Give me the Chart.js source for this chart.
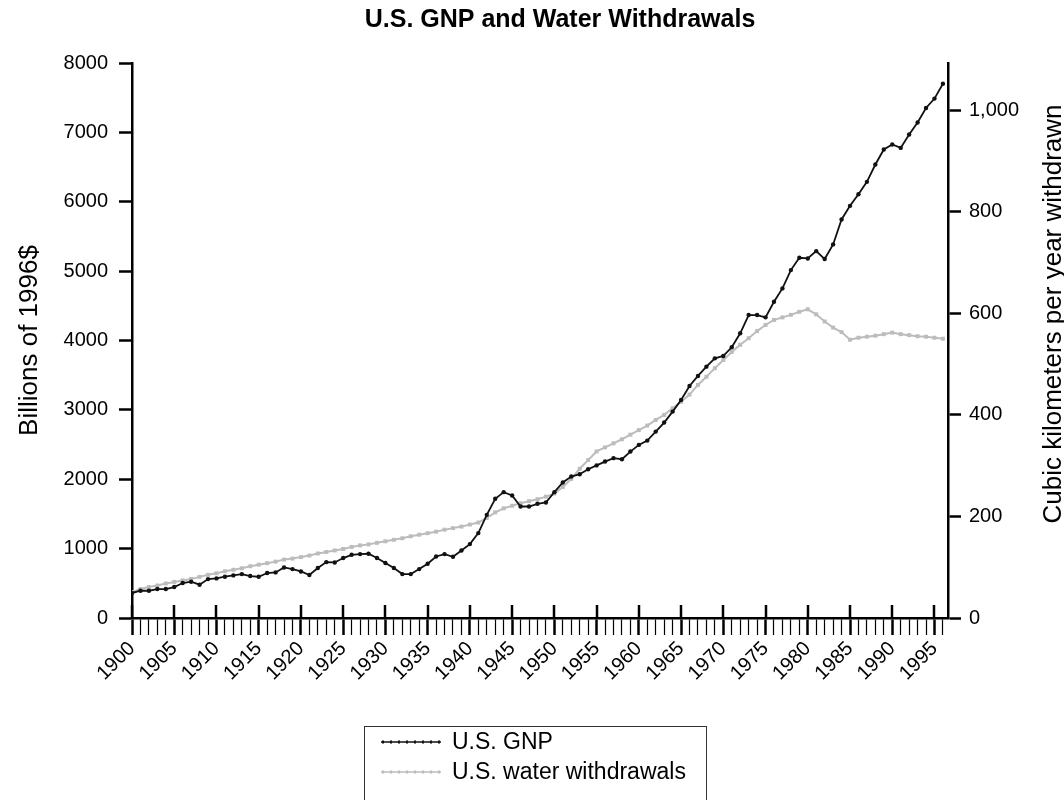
<!DOCTYPE html>
<html>
<head>
<meta charset="utf-8">
<title>U.S. GNP and Water Withdrawals</title>
<script src="https://cdn.jsdelivr.net/npm/chart.js@4.4.1/dist/chart.umd.min.js"></script>
<style>
  html, body { margin: 0; padding: 0; background: #fff; }
  #wrap { width: 1064px; height: 800px; }
</style>
</head>
<body>
<div id="wrap"><canvas id="chart" width="1064" height="800"></canvas></div>
<script>
const years = [
    1900, 1901, 1902, 1903, 1904, 1905, 1906, 1907, 1908, 1909,
    1910, 1911, 1912, 1913, 1914, 1915, 1916, 1917, 1918, 1919,
    1920, 1921, 1922, 1923, 1924, 1925, 1926, 1927, 1928, 1929,
    1930, 1931, 1932, 1933, 1934, 1935, 1936, 1937, 1938, 1939,
    1940, 1941, 1942, 1943, 1944, 1945, 1946, 1947, 1948, 1949,
    1950, 1951, 1952, 1953, 1954, 1955, 1956, 1957, 1958, 1959,
    1960, 1961, 1962, 1963, 1964, 1965, 1966, 1967, 1968, 1969,
    1970, 1971, 1972, 1973, 1974, 1975, 1976, 1977, 1978, 1979,
    1980, 1981, 1982, 1983, 1984, 1985, 1986, 1987, 1988, 1989,
    1990, 1991, 1992, 1993, 1994, 1995, 1996
];

// billions of 1996$
const gnp = [
    360, 393, 393, 417, 417, 446, 504, 523, 480, 561,
    571, 595, 614, 633, 605, 595, 648, 657, 729, 705,
    671, 619, 720, 806, 801, 864, 911, 921, 926, 864,
    792, 720, 633, 633, 705, 782, 887, 921, 883, 974,
    1065, 1224, 1487, 1718, 1814, 1766, 1607, 1607, 1646, 1665,
    1814, 1953, 2039, 2073, 2145, 2200, 2255, 2304, 2289, 2399,
    2495, 2557, 2687, 2817, 2975, 3143, 3345, 3489, 3623, 3743,
    3777, 3902, 4104, 4367, 4367, 4334, 4559, 4751, 5015, 5193,
    5183, 5289, 5174, 5385, 5745, 5941, 6109, 6287, 6537, 6753,
    6825, 6776, 6969, 7142, 7352, 7487, 7700
];

// cubic kilometers per year
const water = [
    51, 57, 61, 64, 68, 71, 74, 77, 81, 85,
    88, 92, 95, 98, 102, 105, 108, 111, 115, 117,
    120, 123, 127, 130, 133, 136, 140, 143, 145, 148,
    151, 154, 157, 161, 164, 167, 170, 174, 177, 180,
    184, 188, 197, 208, 216, 221, 226, 230, 234, 239,
    245, 258, 274, 294, 311, 328, 336, 344, 352, 361,
    370, 379, 390, 400, 413, 426, 440, 459, 475, 492,
    508, 524, 538, 551, 565, 577, 587, 592, 597, 603,
    608, 598, 584, 572, 563, 548, 552, 554, 556, 559,
    562, 559, 557, 555, 554, 552, 550
];

const xLabelYears = [1900, 1905, 1910, 1915, 1920, 1925, 1930, 1935, 1940, 1945,
                     1950, 1955, 1960, 1965, 1970, 1975, 1980, 1985, 1990, 1995];
const leftTicks = [0, 1000, 2000, 3000, 4000, 5000, 6000, 7000, 8000];
const rightTicks = [0, 200, 400, 600, 800, 1000];

const chartTitle = 'U.S. GNP and Water Withdrawals';
const leftTitle = 'Billions of 1996$';
const rightTitle = 'Cubic kilometers per year withdrawn';

const FONT = '"Liberation Sans", Arial, Helvetica, sans-serif';
const GRAY = '#bcbcbc';

// extra bits the library does not draw: title off-centre, ticks over the axis,
// right title, boxed legend
const decorations = {
    id: 'decorations',
    afterDraw(chart) {
        const ctx = chart.ctx;
        const xs = chart.scales.x;
        const area = chart.chartArea;
        ctx.save();

        ctx.fillStyle = '#000';
        ctx.font = 'bold 25px ' + FONT;
        ctx.textAlign = 'center';
        ctx.textBaseline = 'middle';
        ctx.fillText(chartTitle, 560, 20);

        ctx.strokeStyle = '#000';
        ctx.lineWidth = 2.5;
        xLabelYears.forEach(yr => {
            const px = Math.round(xs.getPixelForValue(yr));
            ctx.beginPath();
            ctx.moveTo(px, area.bottom - 13);
            ctx.lineTo(px, area.bottom);
            ctx.stroke();
        });

        // right title reads bottom-to-top like the left one
        ctx.save();
        ctx.translate(1061, 314);
        ctx.rotate(-Math.PI / 2);
        ctx.font = '26px ' + FONT;
        ctx.fillStyle = '#000';
        ctx.textAlign = 'center';
        ctx.textBaseline = 'alphabetic';
        ctx.fillText(rightTitle, 0, 0);
        ctx.restore();

        // legend
        ctx.lineWidth = 1;
        ctx.strokeStyle = '#333';
        ctx.strokeRect(364.5, 726.5, 342, 100);
        chart.data.datasets.forEach((ds, i) => {
            const y = 742 + i * 30;
            ctx.strokeStyle = ds.borderColor;
            ctx.lineWidth = 1.5;
            ctx.beginPath();
            ctx.moveTo(381, y);
            ctx.lineTo(441, y);
            ctx.stroke();
            ctx.fillStyle = ds.borderColor;
            for (let k = 0; k < 8; k++) {
                const mx = 383 + k * 8;
                ctx.fillRect(mx - 1, y - 1.5, 2, 3);
            }
            ctx.fillStyle = '#000';
            ctx.font = '23px ' + FONT;
            ctx.textAlign = 'left';
            ctx.textBaseline = 'middle';
            ctx.fillText(ds.label, 452, y + 1);
        });

        ctx.restore();
    }
};

const ctx = document.getElementById('chart').getContext('2d');
new Chart(ctx, {
    type: 'line',
    data: {
        datasets: [
            {
                label: 'U.S. GNP',
                data: years.map((yr, i) => ({ x: yr, y: gnp[i] })),
                yAxisID: 'y',
                borderColor: '#111',
                backgroundColor: '#111',
                borderWidth: 1.8,
                pointStyle: 'circle',
                pointRadius: 2.2,
                pointBorderWidth: 0,
                tension: 0
            },
            {
                label: 'U.S. water withdrawals',
                data: years.map((yr, i) => ({ x: yr, y: water[i] })),
                yAxisID: 'y1',
                borderColor: GRAY,
                backgroundColor: GRAY,
                borderWidth: 2,
                pointStyle: 'rect',
                pointRadius: 2.8,
                pointBorderWidth: 0,
                tension: 0
            }
        ]
    },
    options: {
        responsive: false,
        animation: false,
        events: [],
        layout: { padding: { top: 63 } },
        plugins: {
            legend: { display: false },
            tooltip: { enabled: false },
            title: { display: false }
        },
        scales: {
            x: {
                type: 'linear',
                min: 1900,
                max: 1996.6,
                afterFit: s => { s.height = 182; },
                afterBuildTicks: s => { s.ticks = years.map(v => ({ value: v })); },
                border: { display: true, color: '#000', width: 2.5 },
                grid: {
                    drawOnChartArea: false,
                    drawTicks: true,
                    tickLength: 17,
                    tickColor: '#000',
                    tickWidth: c => (xLabelYears.includes(c.tick && c.tick.value) ? 2.5 : 1.2)
                },
                ticks: {
                    autoSkip: false,
                    minRotation: 45,
                    maxRotation: 45,
                    padding: 2,
                    color: '#000',
                    font: { family: FONT, size: 20 },
                    callback: v => (xLabelYears.includes(v) ? String(v) : '')
                }
            },
            y: {
                position: 'left',
                min: 0,
                max: 8000,
                afterFit: s => { s.width = 132; },
                afterBuildTicks: s => { s.ticks = leftTicks.map(v => ({ value: v })); },
                border: { display: true, color: '#000', width: 2.5 },
                grid: {
                    drawOnChartArea: false,
                    tickLength: 13,
                    tickColor: '#000',
                    tickWidth: 2.5
                },
                ticks: {
                    padding: 11,
                    color: '#000',
                    font: { family: FONT, size: 20 },
                    callback: v => String(v)
                },
                title: {
                    display: true,
                    text: leftTitle,
                    color: '#000',
                    font: { family: FONT, size: 26 },
                    padding: { top: 14 }
                }
            },
            y1: {
                position: 'right',
                min: 0,
                max: 1093,
                afterFit: s => { s.width = 116; },
                afterBuildTicks: s => { s.ticks = rightTicks.map(v => ({ value: v })); },
                border: { display: true, color: '#000', width: 2.5 },
                grid: {
                    drawOnChartArea: false,
                    tickLength: 13,
                    tickColor: '#000',
                    tickWidth: 2.5
                },
                ticks: {
                    padding: 8,
                    color: '#000',
                    font: { family: FONT, size: 20 },
                    callback: v => v.toLocaleString('en-US')
                }
            }
        }
    },
    plugins: [decorations]
});
</script>
</body>
</html>
